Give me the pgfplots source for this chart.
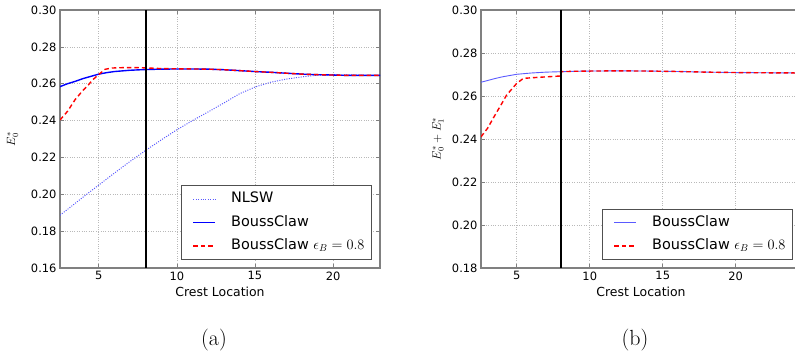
\documentclass[border=0pt]{standalone}
\usepackage{fontspec}
\usepackage{pgfplots}
\pgfplotsset{compat=1.18}
\newfontfamily\djv{DejaVu Sans}
\definecolor{spine}{RGB}{128,128,128}
\definecolor{lblue}{RGB}{90,90,255}
\definecolor{legframe}{RGB}{80,80,80}
\pgfplotsset{
 mystyle/.style={
  scale only axis, width=320bp, height=258bp, anchor=south west,
  axis line style={spine, line width=1.3pt},
  major tick style={spine, line width=0.6pt},
  major tick length=4bp,
  grid=major, grid style={dotted, gray!55, line width=0.6pt},
  tick label style={font=\djv\fontsize{11.5}{13}\selectfont},
  /pgf/number format/assume math mode=true,
  xtick={5,10,15,20},
  yticklabel style={/pgf/number format/fixed, /pgf/number format/fixed zerofill, /pgf/number format/precision=2},
  xlabel={Crest Location},
  xlabel style={font=\djv\fontsize{12.5}{14}\selectfont, at={(axis description cs:0.5,0)}, anchor=north, inner sep=0pt, yshift=-19bp},
  legend cell align=left,
  legend image code/.code={\path (-4bp,0bp); \draw[##1] (0bp,0bp) -- (22bp,0bp);},
  legend style={at={(1,0)}, anchor=south east, xshift=-8bp, yshift=8bp,
    draw=legframe, line width=1pt, fill=white,
    font=\djv\fontsize{14.5}{17}\selectfont,
    inner xsep=7bp, inner ysep=6bp, row sep=8.3bp,
    nodes={inner sep=0pt, text height=11bp, text depth=4bp},
    /tikz/every odd column/.append style={column sep=15bp}},
 }
}
\begin{document}
\begin{tikzpicture}
\useasboundingbox (0,0) rectangle (795bp,356bp);
% ---------- (a) ----------
\begin{axis}[mystyle, at={(60bp,88bp)},
  xmin=2.52, xmax=23, ymin=0.16, ymax=0.30,
  ytick={0.16,0.18,0.20,0.22,0.24,0.26,0.28,0.30},
  ylabel={$E_0^*$},
  ylabel style={font=\fontsize{12}{14}\selectfont, at={([xshift=-47.5bp]axis description cs:0,0.5)}, anchor=center}]
\addplot[lblue, line width=1pt, dash pattern=on 1bp off 1.4bp] coordinates {
(2.52,0.1887) (3,0.1918) (4,0.1985) (5,0.2050) (6,0.2115) (7,0.2178) (8,0.2238)
(9,0.2295) (10,0.2350) (11,0.2400) (12,0.2447) (13,0.2495) (14,0.2545) (15,0.2582)
(16,0.2608) (17,0.2625) (18,0.2637) (19,0.2646) (20,0.2649) (21,0.2648) (22,0.2646) (23,0.2644)};
\addlegendentry{NLSW}
\addplot[blue, line width=1.4pt] coordinates {
(2.52,0.2584) (3,0.2600) (3.5,0.2613) (4,0.2628) (4.5,0.2640) (5,0.2652) (5.5,0.2660)
(6,0.2666) (7,0.2673) (8,0.2677) (9,0.2679) (10,0.2680) (11,0.2680) (12,0.2679)
(13,0.2676) (14,0.2671) (15,0.2666) (16,0.2662) (17,0.2657) (18,0.2652) (19,0.2649)
(20,0.2647) (21,0.2645) (22,0.2645) (23,0.2645)};
\addlegendentry{BoussClaw}
\addplot[red, line width=1.4pt, dash pattern=on 4.5bp off 3bp] coordinates {
(2.52,0.2403) (3,0.2450) (3.5,0.2515) (4,0.2565) (4.33,0.2593) (4.6,0.2620) (5,0.2650)
(5.4,0.2678) (5.8,0.2685) (6.5,0.2687) (7.5,0.2687) (8,0.2686) (9,0.2682) (10,0.2681)
(11,0.2680) (12,0.2679) (13,0.2676) (14,0.2671) (15,0.2666) (16,0.2662) (17,0.2657)
(18,0.2652) (19,0.2649) (20,0.2647) (21,0.2645) (22,0.2645) (23,0.2645)};
\addlegendentry{BoussClaw $\epsilon_B=0.8$}
\addplot[black, line width=2pt, forget plot] coordinates {(8,0.16) (8,0.30)};
\end{axis}
% ---------- (b) ----------
\begin{axis}[mystyle, at={(481bp,88bp)},
  xmin=2.55, xmax=24.47, ymin=0.18, ymax=0.30,
  ytick={0.18,0.20,0.22,0.24,0.26,0.28,0.30},
  ylabel={$E_0^*+E_1^*$},
  ylabel style={font=\fontsize{12}{14}\selectfont, at={([xshift=-43bp]axis description cs:0,0.5)}, anchor=center}]
\addplot[lblue, line width=0.9pt] coordinates {
(2.55,0.2664) (3,0.2672) (3.5,0.2681) (4,0.2689) (5,0.2701) (6,0.2707) (7,0.2711)
(8,0.2713) (9,0.2715) (10,0.2716) (12,0.2717) (14,0.2716) (16,0.2714) (18,0.2711)
(20,0.2709) (22,0.2708) (24.5,0.2707)};
\addlegendentry{BoussClaw}
\addplot[red, line width=1.4pt, dash pattern=on 4.5bp off 3bp] coordinates {
(2.55,0.2410) (3,0.2450) (3.5,0.2510) (4,0.2568) (4.3,0.2604) (5,0.2659) (5.45,0.2682)
(6.3,0.2686) (7.99,0.2693) (8,0.2713) (9,0.2715) (10,0.2716) (12,0.2717) (14,0.2716)
(16,0.2714) (18,0.2711) (20,0.2709) (22,0.2708) (24.5,0.2707)};
\addlegendentry{BoussClaw $\epsilon_B=0.8$}
\addplot[black, line width=2pt, forget plot] coordinates {(8,0.18) (8,0.30)};
\end{axis}
\node[font=\fontsize{22}{26}\selectfont] at (214bp,16bp) {(a)};
\node[font=\fontsize{22}{26}\selectfont] at (635bp,16bp) {(b)};
\end{tikzpicture}
\end{document}
